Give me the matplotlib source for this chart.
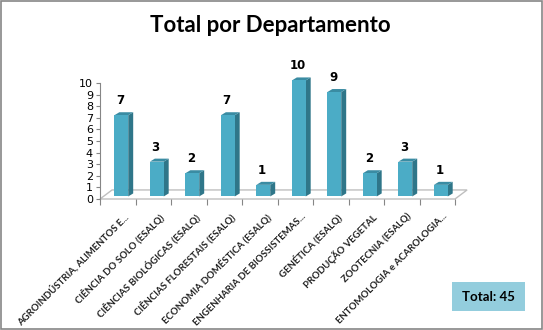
import matplotlib
matplotlib.use("Agg")
import matplotlib.pyplot as plt
from matplotlib.patches import Polygon, Rectangle

# data
departamentos = [
    "AGROINDÚSTRIA, ALIMENTOS E...",
    "CIÊNCIA DO SOLO (ESALQ)",
    "CIÊNCIAS BIOLÓGICAS (ESALQ)",
    "CIÊNCIAS FLORESTAIS (ESALQ)",
    "ECONOMIA DOMÉSTICA (ESALQ)",
    "ENGENHARIA DE BIOSSISTEMAS...",
    "GENÉTICA (ESALQ)",
    "PRODUÇÃO VEGETAL",
    "ZOOTECNIA (ESALQ)",
    "ENTOMOLOGIA e ACAROLOGIA...",
]
totais = [7, 3, 2, 7, 1, 10, 9, 2, 3, 1]
yticks = list(range(0, 11))

front_c = "#4BACC6"
side_c = "#2F7689"
top_c = "#3A8CA3"
grid_c = "#BFBFBF"

fig = plt.figure(figsize=(5.43, 3.30), dpi=100)
fig.patch.set_facecolor("white")
fig.add_artist(Rectangle((0.001, 0.002), 0.997, 0.995, transform=fig.transFigure,
                         fill=False, edgecolor="#868686", linewidth=1.2))

ax = fig.add_axes([100 / 543, (330 - 199) / 330, 355 / 543, 116 / 330])
n = len(totais)
ax.set_xlim(-0.5, n - 0.5)
ax.set_ylim(0, 10)

# floor (depth offsets in data units)
fdx, fdy = 0.34, 0.78
floor = Polygon([(-0.5, 0), (n - 0.5, 0), (n - 0.5 + fdx, fdy), (-0.5 + fdx, fdy)],
                closed=True, facecolor="white", edgecolor=grid_c, linewidth=1, clip_on=False)
ax.add_patch(floor)

# bars with fake 3d faces
w = 0.39
bdx, bdy = 0.14, 0.26
ox, oy = 0.1, 0.22
for i, v in enumerate(totais):
    x0 = i + ox - w / 2
    x1 = x0 + w
    y0 = oy
    y1 = oy + v
    ax.add_patch(Polygon([(x1, y0), (x1 + bdx, y0 + bdy), (x1 + bdx, y1 + bdy), (x1, y1)],
                         closed=True, facecolor=side_c, edgecolor="none", clip_on=False, zorder=3))
    ax.add_patch(Polygon([(x0, y1), (x1, y1), (x1 + bdx, y1 + bdy), (x0 + bdx, y1 + bdy)],
                         closed=True, facecolor=top_c, edgecolor="none", clip_on=False, zorder=3))
    ax.add_patch(Rectangle((x0, y0), w, v, facecolor=front_c, edgecolor="none",
                           clip_on=False, zorder=4))
    ax.text(i + ox - 0.03, y1 + 1.25, str(v), ha="center", va="center",
            fontsize=8.5, fontweight="bold", family="DejaVu Sans", color="black")
    ax.text(i + 0.16, -1.1, departamentos[i], rotation=45, rotation_mode="anchor",
            ha="right", va="top", fontsize=6.9, fontweight="bold", family="Lato",
            color="#222222")

# axes styling
for s in ["top", "right", "bottom"]:
    ax.spines[s].set_visible(False)
ax.spines["left"].set_color("#868686")
ax.set_yticks(yticks)
ax.set_yticklabels([str(t) for t in yticks], fontsize=8, family="DejaVu Sans")
ax.tick_params(axis="y", length=3, color="#868686", pad=2)
ax.set_xticks([k - 0.5 for k in range(n + 1)])
ax.set_xticklabels([])
ax.tick_params(axis="x", length=4, color="#868686")
ax.patch.set_alpha(0)

fig.text(270 / 543, 1 - 25 / 330, "Total por Departamento", ha="center", va="center",
         fontsize=16, fontweight="bold", family="Lato")

# total box
fig.add_artist(Rectangle((452 / 543, 1 - 311 / 330), 73 / 543, 29 / 330,
                         transform=fig.transFigure, facecolor="#93CDDD", edgecolor="none"))
fig.text(488 / 543, 1 - 297 / 330, "Total: " + str(sum(totais)), ha="center", va="center",
         fontsize=9.5, fontweight="bold", family="Lato")

fig.savefig("out.png", dpi=100)
